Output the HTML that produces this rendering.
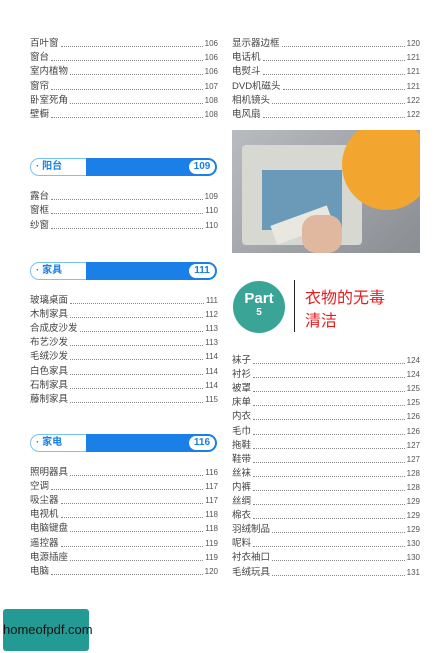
<!DOCTYPE html>
<html><head><meta charset="utf-8"><style>
body{margin:0;width:442px;height:653px;background:#fff;position:relative;overflow:hidden;font-family:"Liberation Sans","Noto Sans CJK SC",sans-serif;color:#444}
.it{position:absolute;height:13px;font-size:9.5px;line-height:13px;display:flex;white-space:nowrap}
.it .d{flex:1;border-bottom:1px dotted #888;margin:0 2px 3px}
.it .n{font-size:8px;color:#555}
.hd{position:absolute;left:30px;width:187px;height:18px}
.hd .w{position:absolute;left:0;top:0;width:52px;height:16px;border:1px solid #7cc4ef;border-radius:9px 0 0 9px;background:#fff;color:#1a7fe6;font-weight:bold;font-size:10px;line-height:16px;padding-left:5px;box-sizing:content-box}
.hd .b{position:absolute;left:56px;top:0;right:0;height:18px;background:#1a7fe6;border-radius:0 9px 9px 0}
.hd .p{position:absolute;right:2px;top:2px;width:26px;height:14px;background:#fff;border-radius:7px;color:#1a7fe6;font-weight:bold;font-size:10px;line-height:14px;text-align:center}
</style></head><body>
<div id="c"></div>
<div style="position:absolute;left:232px;top:130px;width:188px;height:123px;background:linear-gradient(135deg,#b8bcc0,#8a8e93);overflow:hidden">
 <div style="position:absolute;left:10px;top:15px;width:120px;height:100px;background:#d8d8d2;border-radius:4px"></div>
 <div style="position:absolute;left:30px;top:40px;width:80px;height:60px;background:#6a9ab8"></div>
 <div style="position:absolute;left:110px;top:-10px;width:90px;height:90px;background:#f2a630;border-radius:45px"></div>
 <div style="position:absolute;left:40px;top:85px;width:60px;height:20px;background:#e8e8e0;transform:rotate(-20deg)"></div>
 <div style="position:absolute;left:70px;top:85px;width:40px;height:38px;background:#e0b8a0;border-radius:14px"></div>
</div>
<div style="position:absolute;left:233px;top:281px;width:52px;height:52px;border-radius:50%;background:#3aa597;color:#fff;text-align:center;font-weight:bold">
 <div style="font-size:15px;margin-top:10px;line-height:16px">Part</div><div style="font-size:10px;line-height:12px">5</div></div>
<div style="position:absolute;left:294px;top:280px;width:1px;height:52px;background:#222"></div>
<div style="position:absolute;left:305px;top:287px;color:#e41e1e;font-size:16px;line-height:23px">衣物的无毒<br>清洁</div>
<div style="position:absolute;left:3px;top:609px;width:86px;height:42px;background:#239a93;border-radius:3px;color:#111;font-size:13px;line-height:42px;text-align:center">homeofpdf.com</div>
<script>
const left1=[["百叶窗","106"],["窗台","106"],["室内植物","106"],["窗帘","107"],["卧室死角","108"],["壁橱","108"]];
const balc=[["露台","109"],["窗框","110"],["纱窗","110"]];
const furn=[["玻璃桌面","111"],["木制家具","112"],["合成皮沙发","113"],["布艺沙发","113"],["毛绒沙发","114"],["白色家具","114"],["石制家具","114"],["藤制家具","115"]];
const appl=[["照明器具","116"],["空调","117"],["吸尘器","117"],["电视机","118"],["电脑键盘","118"],["遥控器","119"],["电源插座","119"],["电脑","120"]];
const right1=[["显示器边框","120"],["电话机","121"],["电熨斗","121"],["DVD机磁头","121"],["相机镜头","122"],["电风扇","122"]];
const right2=[["袜子","124"],["衬衫","124"],["被罩","125"],["床单","125"],["内衣","126"],["毛巾","126"],["拖鞋","127"],["鞋带","127"],["丝袜","128"],["内裤","128"],["丝绸","129"],["棉衣","129"],["羽绒制品","129"],["呢料","130"],["衬衣袖口","130"],["毛绒玩具","131"]];
const c=document.getElementById('c');
function list(arr,x,y0,dy,w){arr.forEach((a,i)=>{const e=document.createElement('div');e.className='it';


e.style.left=x+'px';e.style.top=(y0+i*dy-6)+'px';e.style.width=w+'px';
e.innerHTML='<span>'+a[0]+'</span><span class="d"></span><span class="n">'+a[1]+'</span>';c.appendChild(e);});}
function hd(t,n,y){const e=document.createElement('div');e.className='hd';


e.style.top=y+'px';e.innerHTML='<div class="w">· '+t+'</div><div class="b"></div><div class="p">'+n+'</div>';c.appendChild(e);}
list(left1,30,43,14.2,188);
hd('阳台','109',158);list(balc,30,196,14.3,188);
hd('家具','111',262);list(furn,30,300,14.1,188);
hd('家电','116',434);list(appl,30,472,14.1,188);
list(right1,232,43,14.2,188);
list(right2,232,360,14.1,188);
</script>
</body></html>
